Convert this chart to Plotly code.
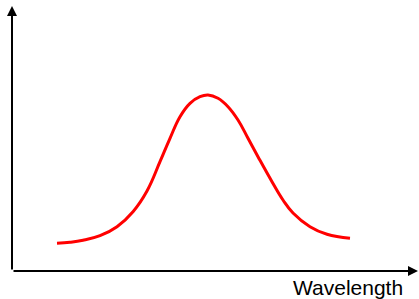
import plotly.graph_objects as go

# Curve samples (arbitrary units: wavelength vs intensity)
wavelength = [57, 70, 83, 100, 117, 133, 147, 160, 170, 180, 190, 200, 208,
              218, 228, 238, 248, 258, 272, 283, 293, 310, 327, 350]
intensity = [55.7, 56.7, 58.7, 63.3, 72.3, 87.3, 108, 137.3, 160.7, 182.3,
             195.7, 202.3, 204, 200.7, 192.3, 179, 160.7, 142.3, 117.3, 99,
             86, 72.3, 64.7, 60.7]

x_label = "Wavelength"

fig = go.Figure()
fig.add_trace(go.Scatter(
    x=wavelength, y=intensity, mode="lines",
    line=dict(color="#ff0000", width=3, shape="spline", smoothing=1.2),
    hoverinfo="skip", showlegend=False,
))

axis_origin = (12, 28)
x_end = 418
y_end = 293

# Axis arrows
fig.add_annotation(x=axis_origin[0], y=y_end, ax=axis_origin[0], ay=axis_origin[1],
                   xref="x", yref="y", axref="x", ayref="y", text="",
                   showarrow=True, arrowhead=2, arrowsize=1, arrowwidth=2,
                   arrowcolor="#000000")
fig.add_annotation(x=x_end, y=axis_origin[1], ax=axis_origin[0], ay=axis_origin[1],
                   xref="x", yref="y", axref="x", ayref="y", text="",
                   showarrow=True, arrowhead=2, arrowsize=1, arrowwidth=2,
                   arrowcolor="#000000")

fig.add_annotation(x=348, y=12, xref="x", yref="y", text=x_label, showarrow=False,
                   xanchor="center", yanchor="middle",
                   font=dict(family="Liberation Sans, Arial, sans-serif", size=21, color="#000000"))

fig.update_xaxes(range=[0, 419], visible=False, fixedrange=True)
fig.update_yaxes(range=[0, 299], visible=False, fixedrange=True)
fig.update_layout(
    width=419, height=299,
    margin=dict(l=0, r=0, t=0, b=0),
    paper_bgcolor="#ffffff", plot_bgcolor="#ffffff",
)

fig.write_html("out.html", config={"displayModeBar": False},
               post_script="document.body.style.margin='0';document.body.style.overflow='hidden';")
